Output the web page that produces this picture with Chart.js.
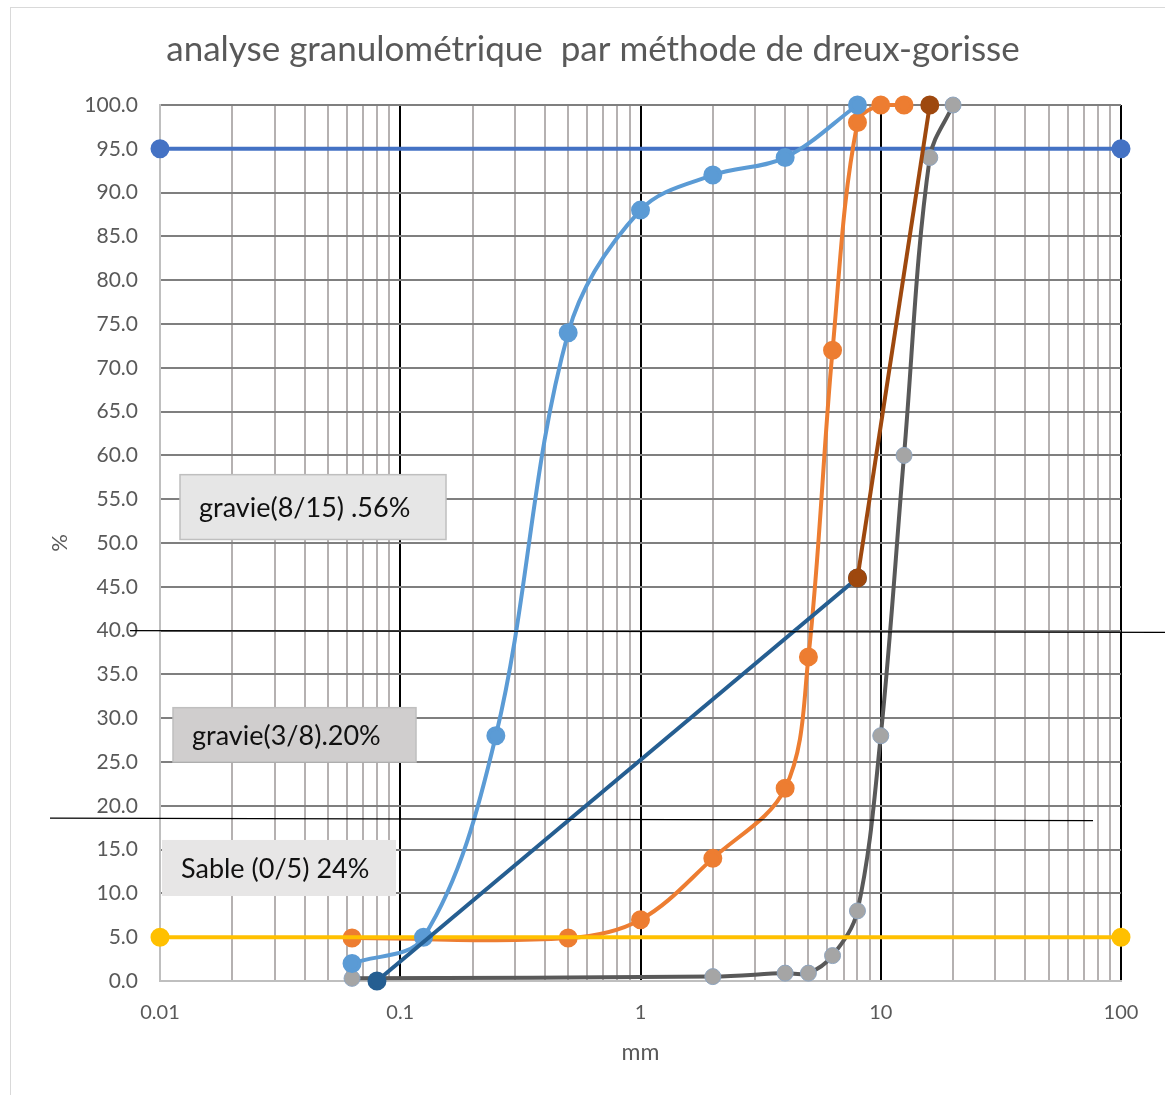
<!DOCTYPE html>
<html>
<head>
<meta charset="utf-8">
<script src="https://cdn.jsdelivr.net/npm/chart.js@4.4.0/dist/chart.umd.min.js"></script>
<style>
  html, body { margin: 0; padding: 0; background: #fff; }
  #wrap { width: 1165px; height: 1095px; }
</style>
</head>
<body>
<div id="wrap"><canvas id="chart" width="1165" height="1095"></canvas></div>
<script>
// sieve sizes (mm) and % passing
const sandSizes = [0.063, 0.125, 0.25, 0.5, 1, 2, 4, 8];
const sandPass = [2, 5, 28, 74, 88, 92, 94, 100];

const gravel38Sizes = [0.063, 0.5, 1, 2, 4, 5, 6.3, 8, 10, 12.5];
const gravel38Pass = [4.9, 4.9, 7, 14, 22, 37, 72, 98, 100, 100];

const gravel815Sizes = [0.063, 2, 4, 5, 6.3, 8, 10, 12.5, 16, 20];
const gravel815Pass = [0.3, 0.5, 0.9, 0.9, 2.9, 8, 28, 60, 94, 100];

// dreux-gorisse reference line
const refSizes = [0.08, 8];
const refPass = [0, 46];
const refTopSizes = [8, 16];
const refTopPass = [46, 100];

// 95% and 5% limits
const limitSizes = [0.01, 100];
const upperLimit = [95, 95];
const lowerLimit = [5, 5];

const xTickLabels = ['0.01', '0.1', '1', '10', '100'];
const chartTitle = 'analyse granulométrique  par méthode de dreux-gorisse';
const noteTexts = ['gravie(8/15) .56%', 'gravie(3/8).20%', 'Sable (0/5) 24%'];

const FONT = 'Lato, "Open Sans", sans-serif';
const toPoints = (xs, ys) => xs.map((x, i) => ({ x: x, y: ys[i] }));
const isDecade = (v) => Math.abs(Math.log10(v) - Math.round(Math.log10(v))) < 1e-9;

const series = (data, line, fill, order, smooth, extra) => Object.assign({
  data: data,
  borderColor: line,
  backgroundColor: fill,
  pointBackgroundColor: fill,
  pointBorderColor: fill,
  pointRadius: 7.5,
  pointHoverRadius: 7.5,
  borderWidth: 4,
  tension: smooth ? 0.35 : 0,
  clip: false,
  order: order,
}, extra || {});

const overlay = {
  id: 'overlay',
  beforeDraw(chart) {
    const c = chart.ctx;
    c.save();
    c.strokeStyle = '#d9d9d9';
    c.lineWidth = 1;
    c.strokeRect(10.5, 7.5, chart.width, chart.height - 5);
    c.fillStyle = '#595959';
    c.font = '35px ' + FONT;
    c.textAlign = 'center';
    c.textBaseline = 'middle';
    c.fillText(chartTitle, 593, 50);
    c.restore();
  },
  afterDatasetsDraw(chart) {
    const c = chart.ctx;
    const area = chart.chartArea;
    const y = chart.scales.y;
    c.save();
    // hand-drawn separator lines
    c.strokeStyle = '#000';
    c.lineWidth = 1.2;
    c.beginPath();
    c.moveTo(area.left - 30, y.getPixelForValue(40));
    c.lineTo(chart.width, y.getPixelForValue(39.8));
    c.moveTo(50, y.getPixelForValue(18.6));
    c.lineTo(area.right - 28, y.getPixelForValue(18.3));
    c.stroke();

    // text boxes
    const boxes = [
      { dx: 20, w: 266, top: 57.8, bottom: 50.4, fill: '#e6e6e6', border: '#bfbfbf' },
      { dx: 13, w: 243, top: 31.2, bottom: 25.0, fill: '#d0cece', border: '#bfbfbf' },
      { dx: 2, w: 234, top: 16.1, bottom: 9.7, fill: '#e7e6e6', border: null },
    ];
    boxes.forEach((b, i) => {
      const x0 = area.left + b.dx;
      const y0 = y.getPixelForValue(b.top);
      const y1 = y.getPixelForValue(b.bottom);
      c.fillStyle = b.fill;
      c.fillRect(x0, y0, b.w, y1 - y0);
      if (b.border) {
        c.strokeStyle = b.border;
        c.lineWidth = 1.5;
        c.strokeRect(x0, y0, b.w, y1 - y0);
      }
      c.fillStyle = '#111';
      c.font = '27px ' + FONT;
      c.textBaseline = 'middle';
      c.textAlign = 'left';
      c.fillText(noteTexts[i], x0 + 19, (y0 + y1) / 2 + 1);
    });
    c.restore();
  }
};

new Chart(document.getElementById('chart'), {
  type: 'line',
  data: {
    datasets: [
      series(toPoints(refSizes, refPass), '#255e91', '#255e91', 2, false),
      series(toPoints(refTopSizes, refTopPass), '#9e480e', '#9e480e', 1, false),
      series(toPoints(sandSizes, sandPass), '#5b9bd5', '#5b9bd5', 3, true),
      series(toPoints(gravel38Sizes, gravel38Pass), '#ed7d31', '#ed7d31', 5, true),
      series(toPoints(gravel815Sizes, gravel815Pass), '#595959', '#a5a5a5', 6, true,
        { pointBorderColor: '#8ea4be', pointBorderWidth: 1, pointRadius: 8, pointHoverRadius: 8 }),
      series(toPoints(limitSizes, lowerLimit), '#ffc000', '#ffc000', 4, false),
      series(toPoints(limitSizes, upperLimit), '#4472c4', '#4472c4', 7, false),
    ]
  },
  options: {
    responsive: false,
    animation: false,
    events: [],
    layout: { padding: { left: 10, right: 44, top: 105, bottom: 0 } },
    plugins: {
      legend: { display: false },
      tooltip: { enabled: false },
      title: { display: false },
    },
    scales: {
      x: {
        type: 'logarithmic',
        min: 0.01,
        max: 100,
        afterFit: (scale) => { scale.height = 114; },
        afterBuildTicks: (scale) => {
          const ticks = [];
          for (let e = -2; e <= 1; e++) {
            for (let k = 1; k <= 9; k++) {
              ticks.push({ value: Number((k * Math.pow(10, e)).toPrecision(3)) });
            }
          }
          ticks.push({ value: 100 });
          scale.ticks = ticks;
        },
        ticks: {
          autoSkip: false,
          maxRotation: 0,
          padding: 20,
          color: '#595959',
          font: { family: FONT, size: 20 },
          callback: (value) => {
            if (!isDecade(value)) return '';
            return xTickLabels[Math.round(Math.log10(value)) + 2];
          },
        },
        grid: {
          drawTicks: false,
          lineWidth: 2,
          color: (ctx) => {
            const v = ctx.tick ? ctx.tick.value : 1;
            if (Math.abs(v - 0.01) < 1e-9) return '#bfbfbf';
            return isDecade(v) ? '#000' : '#b5b1b1';
          },
        },
        border: { color: '#bfbfbf', width: 2 },
        title: {
          display: true,
          text: 'mm',
          color: '#595959',
          font: { family: FONT, size: 23, lineHeight: 1.2 },
          padding: { top: 0, bottom: 29 },
        },
      },
      y: {
        min: 0,
        max: 100,
        afterFit: (scale) => { scale.width = 150; },
        ticks: {
          stepSize: 5,
          padding: 22,
          color: '#595959',
          font: { family: FONT, size: 21 },
          callback: (value) => value.toFixed(1),
        },
        grid: {
          drawTicks: false,
          lineWidth: 2,
          color: (ctx) => (ctx.tick && ctx.tick.value === 0 ? '#bfbfbf' : '#7f7f7f'),
        },
        border: { color: '#bfbfbf', width: 2 },
        title: {
          display: true,
          text: '%',
          color: '#595959',
          font: { family: FONT, size: 22, lineHeight: 1.2 },
          padding: { top: 37, bottom: 0 },
        },
      },
    },
  },
  plugins: [overlay],
});
</script>
</body>
</html>
